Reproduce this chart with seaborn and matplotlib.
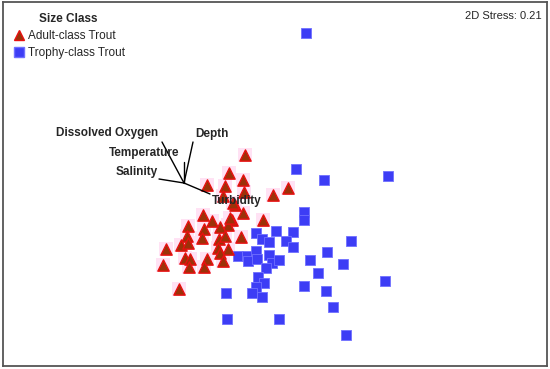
import numpy as np
import pandas as pd
import matplotlib
matplotlib.use("Agg")
import matplotlib.pyplot as plt
from matplotlib.lines import Line2D
import seaborn as sns

# NMDS ordination scores (arbitrary units, axis 2 flipped)
adult_x = [245, 229, 243, 207, 225, 244, 273, 288, 223, 235, 243, 203, 212, 232,
           263, 228, 188, 204, 220, 187, 202, 219, 225, 241, 181, 188, 166, 218,
           228, 220, 185, 190, 207, 223, 163, 189, 204, 179, 230, 233]
adult_y = [155, 173, 180, 185, 186, 192, 195, 188, 196, 205, 213, 215, 221, 220,
           220, 225, 226, 229, 227, 236, 238, 239, 236, 237, 245, 243, 249, 248,
           249, 253, 258, 259, 259, 261, 265, 267, 267, 289, 218, 203]

trophy_x = [306, 296, 324, 388, 304, 304, 256, 276, 293, 262, 269, 286, 293, 351,
            238, 247, 248, 256, 257, 269, 272, 279, 266, 327, 310, 343, 318, 258,
            264, 256, 252, 262, 226, 304, 326, 385, 333, 227, 279, 346]
trophy_y = [33, 169, 180, 176, 212, 220, 233, 231, 232, 239, 242, 241, 247, 241,
            256, 256, 261, 251, 259, 255, 263, 260, 268, 252, 260, 264, 273, 277,
            283, 287, 293, 297, 293, 286, 291, 281, 307, 319, 319, 335]

# environmental vectors (origin + tips)
vec_origin = (184, 183)
vec_names = ["Dissolved Oxygen", "Depth", "Temperature", "Salinity", "Turbidity"]
vec_tip_x = [162, 193, 184, 159, 210]
vec_tip_y = [142, 142, 162, 179, 194]
label_x = [56, 195, 109, 116, 212]
label_y = [133, 134, 153, 172, 201]

stress = 0.21

df = pd.DataFrame({
    "x": adult_x + trophy_x,
    "y": adult_y + trophy_y,
    "Size Class": ["Adult-class Trout"] * len(adult_x) + ["Trophy-class Trout"] * len(trophy_x),
})

sns.set_style("white")
plt.rcParams["font.family"] = ["Liberation Sans", "DejaVu Sans"]

fig = plt.figure(figsize=(5.5, 3.69), dpi=100)
ax = fig.add_axes([3 / 550, 3 / 369, 544 / 550, 364 / 369])

adult = df[df["Size Class"] == "Adult-class Trout"]
trophy = df[df["Size Class"] == "Trophy-class Trout"]

# pink halo behind the triangles
sns.scatterplot(data=adult, x="x", y="y", marker="s", s=105, color="#ffe2f4",
                edgecolor="none", ax=ax, legend=False, zorder=1)
sns.scatterplot(data=adult, x="x", y="y", marker="^", s=66, color="#9b3208",
                edgecolor="#e81010", linewidth=1.0, ax=ax, legend=False, zorder=3)
sns.scatterplot(data=trophy, x="x", y="y", marker="s", s=48, color="#3d3df5",
                edgecolor="#7070ff", linewidth=0.6, ax=ax, legend=False, zorder=2)

for name, tx, ty, lx, ly in zip(vec_names, vec_tip_x, vec_tip_y, label_x, label_y):
    ax.plot([vec_origin[0], tx], [vec_origin[1], ty], color="black", lw=1.0, zorder=4)
    ax.text(lx, ly, name, fontsize=8.5, fontweight="bold", ha="left", va="center", zorder=5)

ax.set_xlim(3, 547)
ax.set_ylim(366, 2)
ax.set_xticks([])
ax.set_yticks([])
ax.set_xlabel("")
ax.set_ylabel("")
for sp in ax.spines.values():
    sp.set_visible(True)
    sp.set_color("#555555")
    sp.set_linewidth(1.3)

ax.text(0.99, 0.962, f"2D Stress: {stress}", transform=ax.transAxes,
        ha="right", va="center", fontsize=8)

handles = [
    Line2D([], [], marker="^", ls="", markersize=7.5, markerfacecolor="#9b3208",
           markeredgecolor="#e81010"),
    Line2D([], [], marker="s", ls="", markersize=7, markerfacecolor="#3d3df5",
           markeredgecolor="#7070ff"),
]
leg = ax.legend(handles, ["Adult-class Trout", "Trophy-class Trout"], title="Size Class",
                loc="upper left", bbox_to_anchor=(0.005, 0.99), frameon=False,
                fontsize=8.5, title_fontproperties={"weight": "bold", "size": 8.5},
                handletextpad=0.15, borderaxespad=0.2, labelspacing=0.45,
                handlelength=1.1)

fig.savefig("out.png", dpi=100)
